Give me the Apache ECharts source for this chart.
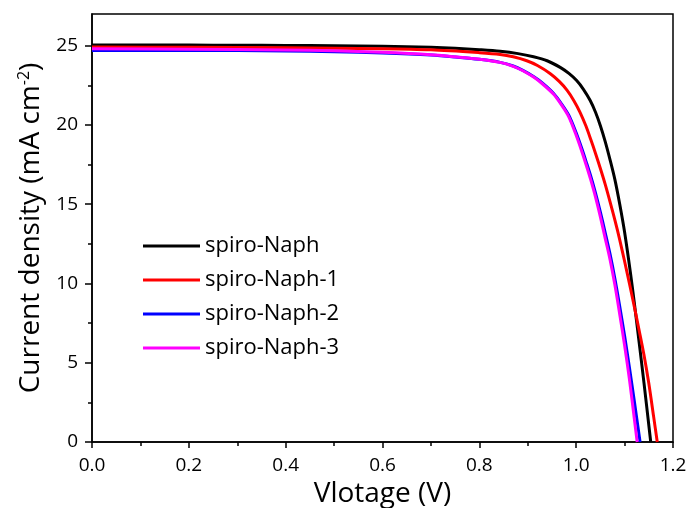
<!DOCTYPE html>
<html>
<head>
<meta charset="utf-8">
<script src="https://cdn.jsdelivr.net/npm/echarts@6/dist/echarts.min.js"></script>
<style>
html,body{margin:0;padding:0;background:#fff;}
#c{width:691px;height:508px;}
</style>
</head>
<body>
<div id="c"></div>
<script>
// Series names
const seriesNames = ['spiro-Naph', 'spiro-Naph-1', 'spiro-Naph-2', 'spiro-Naph-3'];
const seriesColors = ['#000000', '#ff0000', '#0000ff', '#ff00ff'];

// spiro-Naph (black)
const naphV = [0,0.1,0.2,0.3,0.4,0.5,0.6,0.7,0.75,0.8,0.843,0.88,0.912,0.94,0.967,0.985,1.001,1.015,1.029,1.04,1.05,1.06,1.07,1.08,1.09,1.1,1.112,1.12,1.13,1.14,1.154];
const naphJ = [25.05,25.05,25.04,25.03,25.02,25.0,24.97,24.9,24.84,24.75,24.65,24.5,24.3,24.05,23.63,23.25,22.8,22.25,21.54,20.8,19.95,18.95,17.8,16.55,15.0,13.25,10.7,8.8,6.3,3.75,0];

// spiro-Naph-1 (red)
const naph1V = [0,0.2,0.4,0.6,0.7,0.8,0.843,0.87,0.898,0.92,0.946,0.965,0.981,0.995,1.008,1.02,1.03,1.04,1.05,1.06,1.07,1.08,1.09,1.1,1.11,1.12,1.13,1.14,1.15,1.16,1.1675];
const naph1J = [24.92,24.9,24.87,24.81,24.74,24.56,24.45,24.3,24.05,23.75,23.25,22.75,22.2,21.55,20.8,19.95,19.1,18.2,17.25,16.25,15.15,14.0,12.75,11.4,10.0,8.55,7.05,5.5,3.7,1.6,0];

// spiro-Naph-2 (blue)
const naph2V = [0,0.2,0.4,0.5,0.6,0.7,0.75,0.8,0.843,0.87,0.89,0.912,0.93,0.953,0.97,0.985,1.0,1.012,1.022,1.03,1.04,1.05,1.06,1.07,1.08,1.09,1.1,1.11,1.12,1.132];
const naph2J = [24.7,24.7,24.67,24.62,24.54,24.41,24.29,24.14,23.95,23.72,23.44,23.05,22.65,22.0,21.32,20.6,19.5,18.48,17.55,16.78,15.7,14.5,13.2,11.85,10.3,8.55,6.7,4.7,2.6,0];

// spiro-Naph-3 (magenta)
const naph3V = [0,0.2,0.4,0.5,0.6,0.7,0.75,0.8,0.843,0.87,0.89,0.912,0.93,0.953,0.97,0.985,1.0,1.012,1.022,1.03,1.04,1.05,1.06,1.07,1.08,1.09,1.1,1.11,1.12,1.126];
const naph3J = [24.8,24.78,24.73,24.68,24.58,24.43,24.3,24.15,23.95,23.7,23.42,23.02,22.6,21.95,21.25,20.5,19.35,18.3,17.35,16.55,15.45,14.2,12.85,11.5,9.9,8.05,6.1,3.95,1.5,0];

// Axis ticks
const xTicks = [0,0.2,0.4,0.6,0.8,1.0,1.2];
const yMajor = [0,5,10,15,20,25];
const yMinor = [2.5,7.5,12.5,17.5,22.5];

const allV = [naphV, naph1V, naph2V, naph3V];
const allJ = [naphJ, naph1J, naph2J, naph3J];

const FONT = 'Open Sans';
const chart = echarts.init(document.getElementById('c'), null, {renderer:'canvas'});

const series = seriesNames.map((n, i) => ({
  name: n,
  type: 'line',
  xAxisIndex: 0,
  yAxisIndex: 0,
  data: allV[i].map((v, k) => [v, allJ[i][k]]),
  showSymbol: false,
  symbol: 'none',
  smooth: 0.3,
  lineStyle: {color: seriesColors[i], width: 3},
  itemStyle: {color: seriesColors[i]},
  z: 2 + i,
  animation: false
}));

chart.setOption({
  animation: false,
  backgroundColor: '#fff',
  textStyle: {fontFamily: FONT},
  grid: {left: 92, right: 18, top: 14, bottom: 66, show: true, borderColor: '#000', borderWidth: 1.5, containLabel: false, outerBoundsMode: 'none'},
  legend: {
    orient: 'vertical',
    left: 143,
    top: 234,
    padding: 0,
    icon: 'rect',
    itemWidth: 57,
    itemHeight: 3,
    itemGap: 10,
    textStyle: {fontFamily: FONT, fontSize: 22, lineHeight: 24, color: '#000'},
    data: seriesNames.map((n, i) => ({name: n, itemStyle: {color: seriesColors[i]}}))
  },
  xAxis: [{
    type: 'value',
    min: xTicks[0],
    max: xTicks[xTicks.length - 1],
    interval: 0.2,
    axisLine: {show: true, lineStyle: {color: '#000', width: 1.5}},
    axisTick: {show: true, inside: false, length: 6, lineStyle: {color: '#000', width: 1.5}},
    minorTick: {show: true, splitNumber: 2, length: 4, lineStyle: {color: '#000', width: 1.5}},
    splitLine: {show: false},
    minorSplitLine: {show: false},
    axisLabel: {fontFamily: FONT, fontSize: 19, color: '#000', margin: 14, formatter: v => v.toFixed(1)},
    name: 'Vlotage (V)',
    nameLocation: 'middle',
    nameGap: 37,
    nameTextStyle: {fontFamily: FONT, fontSize: 28, color: '#000'}
  }],
  yAxis: [{
    type: 'value',
    min: 0,
    max: 27,
    interval: 5,
    position: 'left',
    axisLine: {show: true, lineStyle: {color: '#000', width: 1.5}},
    axisTick: {show: true, inside: false, length: 7, customValues: yMajor, lineStyle: {color: '#000', width: 1.5}},
    axisLabel: {fontFamily: FONT, fontSize: 19, color: '#000', margin: 14, customValues: yMajor},
    splitLine: {show: false},
    name: '{a|Current density (mA cm}{s|-2}{a|)}',
    nameLocation: 'middle',
    nameGap: 44,
    nameRotate: 90,
    nameTextStyle: {
      color: '#000',
      rich: {
        a: {fontFamily: FONT, fontSize: 28, color: '#000'},
        s: {fontFamily: FONT, fontSize: 16, color: '#000', verticalAlign: 'top', padding: [0, 0, 14, 0]}
      }
    }
  }, {
    type: 'value',
    min: 0,
    max: 27,
    position: 'left',
    offset: 0,
    axisLine: {show: false},
    axisTick: {show: true, inside: false, length: 4, customValues: yMinor, lineStyle: {color: '#000', width: 1.5}},
    axisLabel: {show: false},
    splitLine: {show: false}
  }],
  series: series
});
</script>
</body>
</html>
